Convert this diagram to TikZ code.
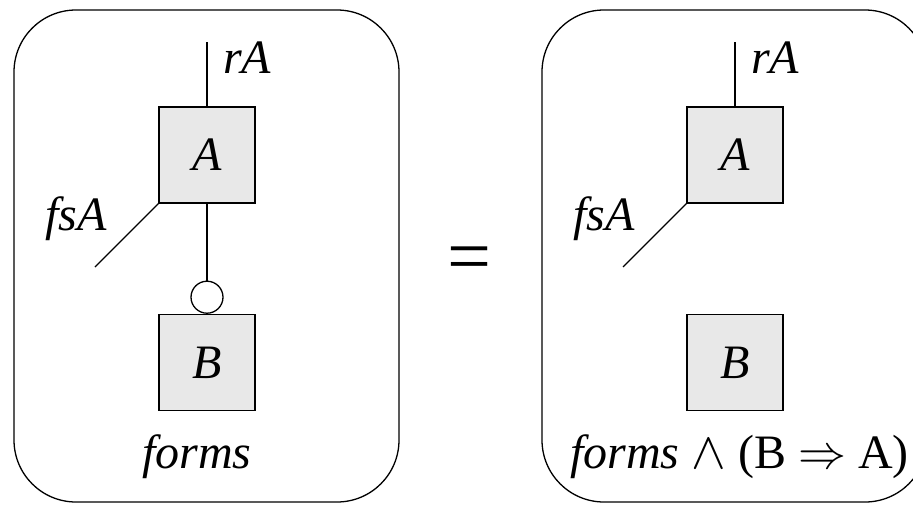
\RequirePackage{fix-cm}
\documentclass[tikz,border=0pt]{standalone}
\usepackage{fontspec}
\setmainfont{Liberation Serif}
\usetikzlibrary{positioning}
\definecolor{boxgray}{RGB}{232,232,232}
\tikzset{
	panel/.style={draw, line width=1.3pt, rounded corners=62pt, minimum width=385pt, minimum height=492pt},
	blockbox/.style={draw, line width=1.3pt, fill=boxgray, minimum size=96pt, font=\fontsize{48}{54}\selectfont\itshape},
	wire/.style={line width=1.3pt},
	bubble/.style={draw, circle, line width=1.3pt, minimum size=32pt, inner sep=0pt, fill=white},
	lbl/.style={inner sep=0pt, font=\fontsize{48}{54}\selectfont\itshape}
}
\begin{document}
\begin{tikzpicture}[x=1pt,y=-1pt, font=\fontsize{48}{54}\selectfont]
	\clip (0,0) rectangle (913,504);
	% left side
	\node[panel] (lpanel) at (206.5,256) {};
	\node[blockbox] (la) at (207,155) {A};
	\node[blockbox] (lb) at (207,362.5) {B};
	\node[bubble, above=0pt of lb] (lbub) {};
	\coordinate (lrtop) at (207,42);
	\coordinate (lfsend) at (95,267);
	\draw[wire] (lrtop) -- (la.north);
	\draw[wire] (la.south west) -- (lfsend);
	\draw[wire] (la.south) -- (lbub.north);
	\node[lbl, anchor=base west] (lra) at (223,73) {rA};
	\node[lbl, anchor=base west] (lfsa) at (45,230) {fsA};
	\node[lbl, anchor=base] (lforms) at (197,468) {forms};
	
	\node[inner sep=0pt, font=\fontsize{78}{80}\selectfont] (eq) at (469,265) {=};
	
	% right side
	\node[panel] (rpanel) at (734.5,256) {};
	\node[blockbox] (ra) at (735,155) {A};
	\node[blockbox] (rb) at (735,362.5) {B};
	\coordinate (rrtop) at (735,42);
	\coordinate (rfsend) at (623,267);
	\draw[wire] (rrtop) -- (ra.north);
	\draw[wire] (ra.south west) -- (rfsend);
	\node[lbl, anchor=base west] (rra) at (751,73) {rA};
	\node[lbl, anchor=base west] (rfsa) at (573,230) {fsA};
	\node[inner sep=0pt, anchor=base west] (rforms) at (570,468) {\textit{forms} {\fontsize{52}{56}\selectfont$\wedge$} (B $\Rightarrow$ A)};
\end{tikzpicture}
\end{document}
